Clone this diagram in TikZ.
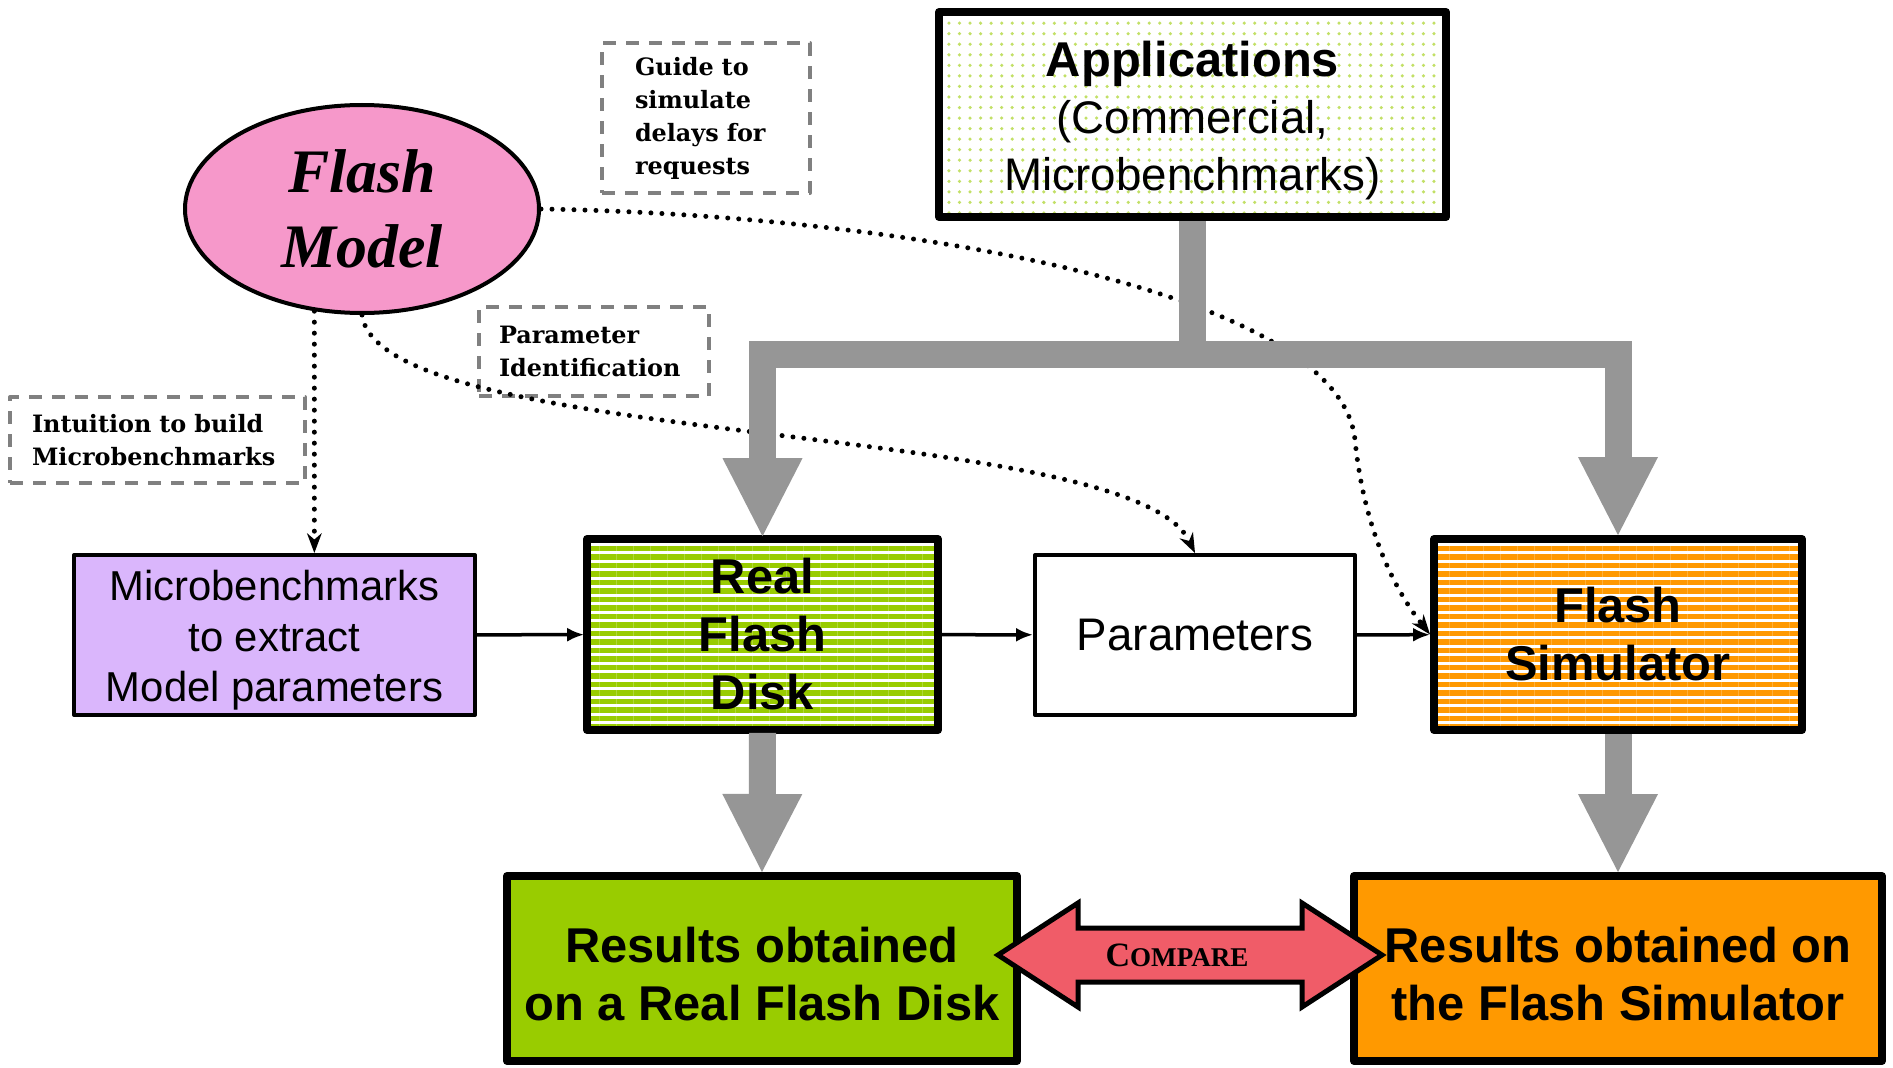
\documentclass[tikz,border=0pt]{standalone}
\usepackage{fontspec}
\setmainfont{Liberation Sans}
\newfontfamily\notefont{DejaVu Serif}
\newfontfamily\modelfont{Liberation Serif}
\usetikzlibrary{shapes.geometric, arrows.meta, patterns, patterns.meta}

\definecolor{flashgreen}{RGB}{153,204,0}
\definecolor{flashorange}{RGB}{255,153,0}
\definecolor{modelpink}{RGB}{246,152,202}
\definecolor{micropurple}{RGB}{218,182,252}
\definecolor{flowgray}{RGB}{150,150,150}
\definecolor{comparered}{RGB}{240,92,104}

\begin{document}
\begin{tikzpicture}[>={Latex[length=0.17cm, width=0.14cm]}, line join=round, line cap=round,
  box/.style={draw, line width=0.04cm, align=center, inner sep=0pt},
  heavybox/.style={box, line width=0.08cm},
  note/.style={draw=gray, line width=0.04cm, dash pattern=on 0.13cm off 0.1cm, line cap=butt,
    align=left, inner ysep=0pt, font=\notefont\bfseries\fontsize{6.8}{9.4}\selectfont},
  normaltext/.style={font=\fontsize{13}{16.2}\selectfont},
  boldtext/.style={font=\bfseries\fontsize{13.9}{16.5}\selectfont},
  stripes/.style={pattern={Lines[distance=0.085cm, line width=0.056cm]}},
  flow/.style={draw=flowgray, line width=0.27cm, line cap=butt, line join=miter},
  bighead/.tip={Triangle[width=0.8cm, length=0.78cm, line width=0pt]},
  dotline/.style={line width=0.05cm, dash pattern=on 0pt off 0.11cm, line cap=round},
  dothead/.tip={Stealth[length=0.2cm, width=0.15cm, line width=0pt]}]
  \path[use as bounding box, fill=white] (0,0) rectangle (18.93,10.67);

  % Top row
  \node[heavybox, pattern=dots, pattern color=flashgreen!60, minimum width=5.07cm, minimum height=2.05cm, normaltext]
    (apps) at (11.925,9.525) {{\bfseries\fontsize{13.9}{16.2}\selectfont\rule{0pt}{0.48cm}Applications}\\(Commercial,\\Microbenchmarks)};
  \node[ellipse, draw, line width=0.04cm, fill=modelpink, minimum width=3.54cm, minimum height=2.08cm,
    inner sep=0pt, align=center, font=\modelfont\bfseries\itshape\fontsize{17.6}{21.3}\selectfont]
    (model) at (3.62,8.58) {Flash\\Model};

  % Notes
  \node[note, minimum width=2.08cm, minimum height=1.50cm, inner xsep=0.33cm, text width=1.42cm]
    (guide) at (7.06,9.49) {Guide to\\simulate\\delays for\\requests};
  \node[note, minimum width=2.30cm, minimum height=0.89cm, inner xsep=0.2cm, text width=1.9cm]
    (paramid) at (5.94,7.155) {Parameter\\Identification};
  \node[note, minimum width=2.95cm, minimum height=0.86cm, inner xsep=0.22cm, text width=2.51cm]
    (intuition) at (1.575,6.27) {Intuition to build\\Microbenchmarks};

  % Middle row
  \node[box, fill=micropurple, minimum width=4.01cm, minimum height=1.60cm, font=\fontsize{11.9}{14.3}\selectfont]
    (micro) at (2.745,4.32) {\rule{0pt}{0.41cm}Microbenchmarks\\to extract\\Model parameters};
  \node[heavybox, stripes, pattern color=flashgreen, minimum width=3.51cm, minimum height=1.91cm, boldtext]
    (real) at (7.625,4.325) {Real\\Flash\\Disk};
  \node[box, minimum width=3.20cm, minimum height=1.60cm, normaltext] (params) at (11.95,4.32) {Parameters};
  \node[heavybox, stripes, pattern color=flashorange, minimum width=3.68cm, minimum height=1.91cm, boldtext]
    (sim) at (16.18,4.325) {Flash\\Simulator};

  % Results
  \node[heavybox, fill=flashgreen, minimum width=5.10cm, minimum height=1.85cm, boldtext]
    (resreal) at (7.62,0.985) {\rule{0pt}{0.46cm}Results obtained\\on a Real Flash Disk};
  \node[heavybox, fill=flashorange, minimum width=5.28cm, minimum height=1.85cm, boldtext]
    (ressim) at (16.18,0.985) {\rule{0pt}{0.46cm}Results obtained on\\the Flash Simulator};

  % Dotted links from the model
  \draw[dotline, -dothead] (model.245) -- (model.245 |- micro.north);
  \draw[dotline, -dothead] (model.south) .. controls (3.80,6.18) and (11.30,6.47) .. (params.north);
  \draw[dotline, -dothead] (model.east) .. controls (9.00,8.52) and (13.40,7.77) .. (13.55,6.27)
    .. controls (13.64,5.37) and (13.95,4.77) .. (sim.west);

  % Gray flow
  \coordinate (split) at (11.925,7.125);
  \draw[flow] (apps.south) -- (split);
  \draw[flow, bighead-bighead] (real.north) -- (real.north |- split) -- (sim.north |- split) -- (sim.north);
  \draw[flow, -bighead] (real.south) -- (resreal.north);
  \draw[flow, -bighead] (sim.south) -- (ressim.north);

  % Black arrows
  \draw[->, line width=0.035cm] (micro) -- (real);
  \draw[->, line width=0.035cm] (real) -- (params);
  \draw[->, line width=0.035cm] (params) -- (sim);

  % Compare
  \draw[line width=0.05cm, line join=miter, fill=comparered] (9.98,1.12) -- (10.78,1.64) -- (10.78,1.39)
    -- (13.02,1.39) -- (13.02,1.64) -- (13.82,1.12) -- (13.02,0.60) -- (13.02,0.85) -- (10.78,0.85)
    -- (10.78,0.60) -- cycle;
  \node[font=\modelfont\bfseries] (compare) at (11.77,1.12)
    {{\fontsize{9.7}{10}\selectfont C}{\fontsize{7.7}{10}\selectfont OMPARE}};
\end{tikzpicture}
\end{document}
